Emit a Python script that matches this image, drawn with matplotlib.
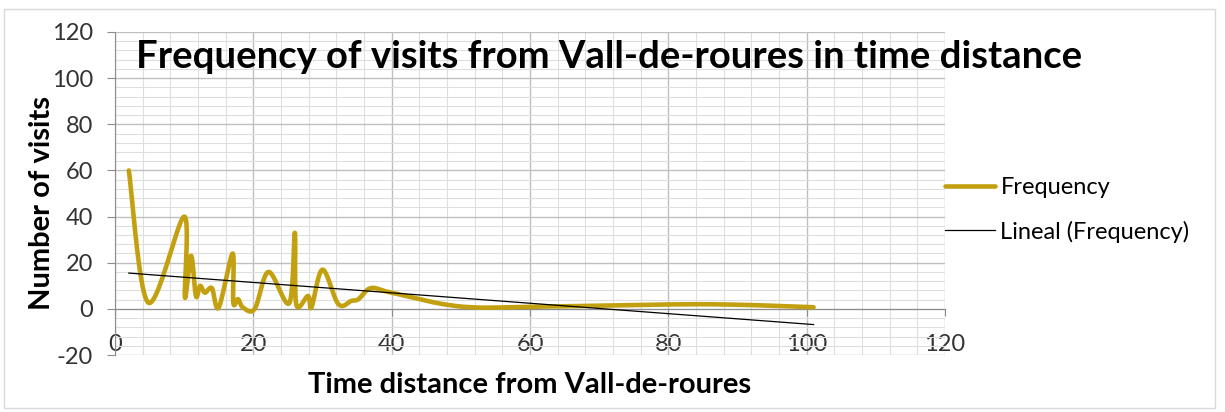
import numpy as np
import matplotlib
matplotlib.use('Agg')
import matplotlib.pyplot as plt
from matplotlib.patches import Rectangle

plt.rcParams['font.family'] = ['Lato', 'DejaVu Sans']
plt.rcParams['axes.unicode_minus'] = False

# ---- Data ----
time_dist = [2, 4.8, 10, 10.1, 11, 11.7, 12.3, 13, 14, 15, 17, 17.1, 17.8, 18.5,
             20.2, 22.2, 25.2, 26, 26.2, 27.9, 28.4, 30, 32.3, 34.2, 35.2, 37,
             40, 50, 62, 85, 101]
visits = [60, 2.7, 40, 5, 23, 5.5, 10, 7, 9, 0.6, 24, 2.7, 4.2, 0.6,
          0, 16, 2.5, 33, 2, 5.6, 0.6, 17, 2, 3.5, 4.2, 9,
          7, 1, 1, 2, 0.7]

x_ticks = [0, 20, 40, 60, 80, 100, 120]
y_ticks = [-20, 0, 20, 40, 60, 80, 100, 120]

gold = '#C3A010'
grid_major = '#BFBFBF'
grid_minor = '#DEDEDE'
axis_gray = '#8C8C8C'


def smooth_curve(xs, ys, n=25):
    # Excel-style smoothed line: cubic Bezier with Catmull-Rom control points
    pts = np.column_stack([xs, ys]).astype(float)
    pad = np.vstack([pts[0], pts, pts[-1]])
    t = np.linspace(0, 1, n)[:, None]
    segs = []
    for i in range(len(pts) - 1):
        p0, p1, p2, p3 = pad[i], pad[i + 1], pad[i + 2], pad[i + 3]
        c1 = p1 + (p2 - p0) / 6
        c2 = p2 - (p3 - p1) / 6
        segs.append((1 - t)**3 * p1 + 3 * (1 - t)**2 * t * c1
                    + 3 * (1 - t) * t**2 * c2 + t**3 * p2)
    out = np.vstack(segs)
    return out[:, 0], out[:, 1]


sx, sy = smooth_curve(time_dist, visits)

# Linear trend line (least squares on the raw points)
slope, intercept = np.polyfit(time_dist, visits, 1)
tx = np.array([min(time_dist), max(time_dist)])
ty = slope * tx + intercept

fig = plt.figure(figsize=(12.25, 4.12), dpi=100)
ax = fig.add_axes([115 / 1225, 1 - 355 / 412, 830 / 1225, 323 / 412])

ax.plot(sx, sy, color=gold, linewidth=3.3, solid_capstyle='round',
        label='Frequency', zorder=3)
ax.plot(tx, ty, color='black', linewidth=0.9, label='Lineal (Frequency)',
        zorder=4)

ax.set_xlim(0, 120)
ax.set_ylim(-20, 120)
ax.set_xticks(x_ticks)
ax.set_yticks(y_ticks)
ax.set_xticks(np.arange(0, 121, 4), minor=True)
ax.set_yticks(np.arange(-20, 121, 4), minor=True)

ax.grid(True, which='major', color=grid_major, linewidth=1.0, zorder=0)
ax.grid(True, which='minor', color=grid_minor, linewidth=0.8, zorder=0)
ax.set_axisbelow(True)

for s in ['top', 'right']:
    ax.spines[s].set_visible(False)
ax.spines['bottom'].set_position(('data', 0))
ax.spines['bottom'].set_color(axis_gray)
ax.spines['left'].set_color(axis_gray)

ax.tick_params(axis='both', which='minor', length=0)
ax.tick_params(axis='x', which='major', direction='out', length=5,
               color=axis_gray, pad=13, labelsize=17, labelcolor='#333333')
ax.tick_params(axis='y', which='major', direction='out', length=6,
               color=axis_gray, pad=10, labelsize=17, labelcolor='#333333')

# Titles and axis labels
fig.text(609 / 1225, 1 - 57 / 412,
         'Frequency of visits from Vall-de-roures in time distance',
         ha='center', va='center', fontsize=27.5, fontweight='bold')
fig.text(42 / 1225, 1 - 203 / 412, 'Number of visits', rotation=90,
         ha='center', va='center', fontsize=21, fontweight='bold')
fig.text(530 / 1225, 1 - 385 / 412, 'Time distance from Vall-de-roures',
         ha='center', va='center', fontsize=21, fontweight='bold')

ax.legend(loc='center left', bbox_to_anchor=(945 / 1225, 1 - 210 / 412),
          bbox_transform=fig.transFigure, frameon=False, fontsize=17,
          borderpad=0, borderaxespad=0, handlelength=2.1,
          handletextpad=0.25, labelspacing=0.95)

# Chart area border
fig.patches.append(Rectangle((4 / 1225, 4 / 412), 1211 / 1225, 399 / 412,
                             transform=fig.transFigure, fill=False,
                             edgecolor='#D9D9D9', linewidth=1.0))

fig.savefig('out.png', dpi=100)
